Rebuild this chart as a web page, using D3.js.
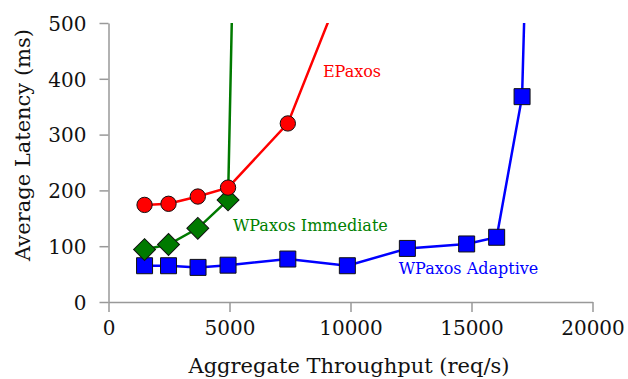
<!DOCTYPE html>
<html>
<head>
<meta charset="utf-8">
<script src="https://cdn.jsdelivr.net/npm/d3@7"></script>
<style>
  body { margin: 0; background: #fff; }
  text { font-family: "DejaVu Serif", serif; }
</style>
</head>
<body>
<svg id="chart"></svg>
<script>
// throughput (req/s) and latency (ms) per series
const epaxosX = [1490, 2480, 3690, 4940, 7410, 9900]
const epaxosY = [174, 176, 189, 205, 320, 592]
const immediateX = [1490, 2480, 3690, 4940, 5200]
const immediateY = [94, 103, 132, 183, 720]
const adaptiveX = [1490, 2480, 3700, 4940, 7410, 9870, 12350, 14800, 16040, 17090, 17300]
const adaptiveY = [65, 65, 62, 66, 77, 65, 96, 104, 116, 368, 700]
const xTicks = [0, 5000, 10000, 15000, 20000]
const yTicks = [0, 100, 200, 300, 400, 500]

const width = 628, height = 379
const margin = {left: 108.5, right: 35.5, top: 23, bottom: 77}

const svg = d3.select('#chart')
    .attr('width', width)
    .attr('height', height)

const x = d3.scaleLinear().domain([0, 20000]).range([margin.left, width - margin.right])
const y = d3.scaleLinear().domain([0, 500]).range([height - margin.bottom, margin.top])

// axes
const xAxis = svg.append('g')
    .attr('transform', `translate(0,${height - margin.bottom})`)
    .call(d3.axisBottom(x).tickValues(xTicks).tickFormat(d3.format('d'))
        .tickSize(10).tickPadding(9).tickSizeOuter(0))
const yAxis = svg.append('g')
    .attr('transform', `translate(${margin.left},0)`)
    .call(d3.axisLeft(y).tickValues(yTicks).tickFormat(d3.format('d'))
        .tickSize(9).tickPadding(13).tickSizeOuter(0))

for (const ax of [xAxis, yAxis]) {
    ax.select('.domain').attr('stroke', '#999').attr('stroke-width', 1.5)
    ax.selectAll('.tick line').attr('stroke', '#999').attr('stroke-width', 1.5)
    ax.selectAll('.tick text')
        .attr('fill', '#111')
        .style('font-family', '"DejaVu Serif", serif')
        .style('font-size', '20px')
}
yAxis.selectAll('.tick text').attr('dy', '0.36em')

svg.append('text')
    .attr('x', 349).attr('y', 373)
    .attr('text-anchor', 'middle')
    .attr('fill', '#111')
    .style('font-size', '21px')
    .text('Aggregate Throughput (req/s)')

svg.append('text')
    .attr('transform', 'translate(30,145) rotate(-90)')
    .attr('text-anchor', 'middle')
    .attr('fill', '#111')
    .style('font-size', '21px')
    .text('Average Latency (ms)')

// clip to plot area
svg.append('clipPath').attr('id', 'plot')
    .append('rect')
    .attr('x', margin.left).attr('y', margin.top)
    .attr('width', width - margin.left - margin.right)
    .attr('height', height - margin.top - margin.bottom)

const plot = svg.append('g').attr('clip-path', 'url(#plot)')
const line = d3.line().x(d => x(d[0])).y(d => y(d[1]))

const series = [
    {xs: adaptiveX, ys: adaptiveY, color: '#0000ff', shape: d3.symbolSquare, size: 256, rot: 0},
    {xs: immediateX, ys: immediateY, color: '#007a00', shape: d3.symbolSquare, size: 240, rot: 45},
    {xs: epaxosX, ys: epaxosY, color: '#ff0000', shape: d3.symbolCircle, size: 185, rot: 0},
]

for (const s of series) {
    const pts = s.xs.map((v, i) => [v, s.ys[i]])
    plot.append('path')
        .datum(pts)
        .attr('d', line)
        .attr('fill', 'none')
        .attr('stroke', s.color)
        .attr('stroke-width', 2.5)
}
// markers go on top of every line, outside the clip so edge markers are whole
for (const s of series) {
    const pts = s.xs.map((v, i) => [v, s.ys[i]]).filter(d => d[1] <= 500)
    svg.selectAll(null)
        .data(pts)
        .join('path')
        .attr('transform', d => `translate(${x(d[0])},${y(d[1])}) rotate(${s.rot})`)
        .attr('d', d3.symbol().type(s.shape).size(s.size))
        .attr('fill', s.color)
        .attr('stroke', '#111')
        .attr('stroke-width', 1)
}

// series labels
const labels = [
    {text: 'EPaxos', x: 8860, y: 403, color: '#ff0000'},
    {text: 'WPaxos Immediate', x: 5140, y: 127, color: '#008000'},
    {text: 'WPaxos Adaptive', x: 11990, y: 51, color: '#0000ff'},
]
svg.selectAll(null)
    .data(labels)
    .join('text')
    .attr('x', d => x(d.x))
    .attr('y', d => y(d.y))
    .attr('fill', d => d.color)
    .style('font-size', '16px')
    .text(d => d.text)
</script>
</body>
</html>
